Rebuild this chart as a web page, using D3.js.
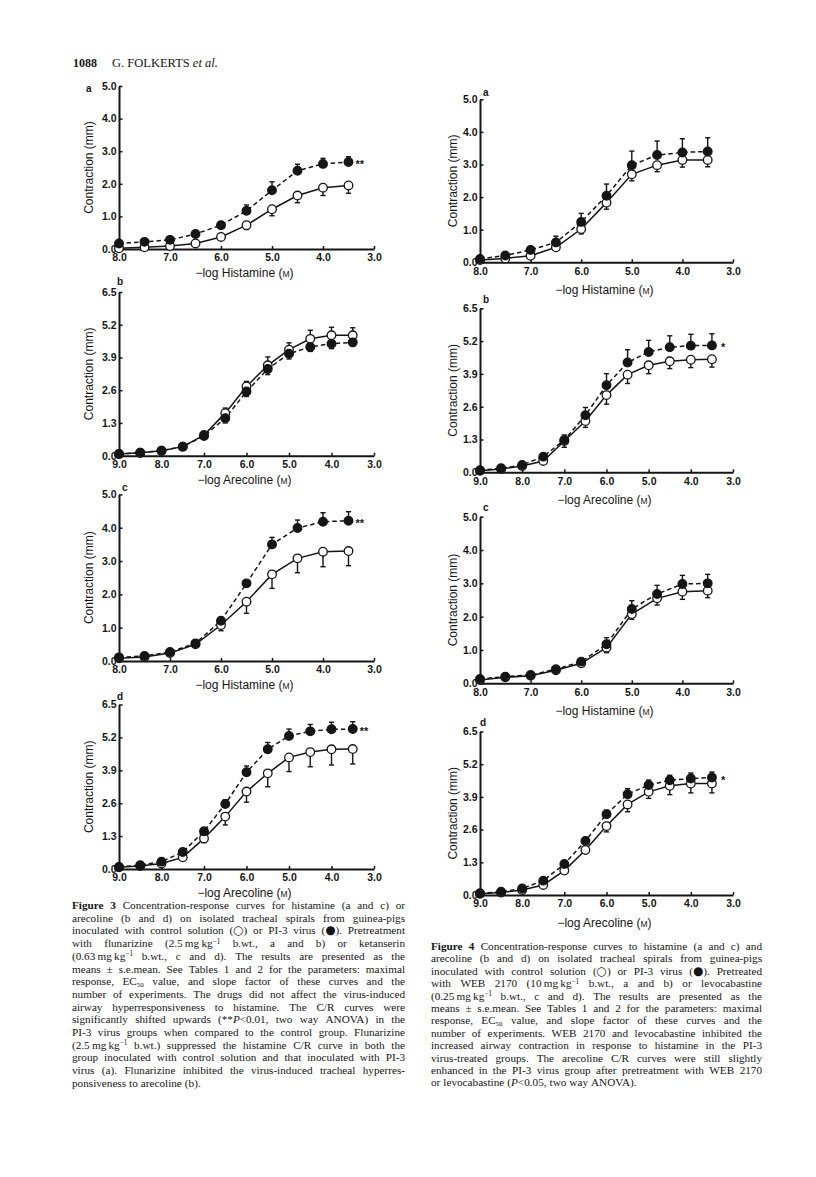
<!DOCTYPE html>
<html><head><meta charset="utf-8">
<script src="https://cdn.jsdelivr.net/npm/d3@7"></script>
<style>body{margin:0;background:#fff} svg{display:block}</style>
</head><body>
<svg id="c" width="816" height="1177"></svg>
<script>
// ---------- DATA ----------
const histamineDoses = [8.0, 7.5, 7.0, 6.5, 6.0, 5.5, 5.0, 4.5, 4.0, 3.5];
const arecolineDoses = [9.0, 8.5, 8.0, 7.5, 7.0, 6.5, 6.0, 5.5, 5.0, 4.5, 4.0, 3.5];
const histamineTicks = [8, 7, 6, 5, 4, 3];
const arecolineTicks = [9, 8, 7, 6, 5, 4, 3];
const yTicks5 = [0, 1, 2, 3, 4, 5];
const yTicks65 = [0, 1.3, 2.6, 3.9, 5.2, 6.5];

// Figure 3a (histamine, flunarizine)
const f3a_virus      = [0.17, 0.22, 0.28, 0.46, 0.73, 1.17, 1.80, 2.40, 2.61, 2.67];
const f3a_virusSem   = [0.03, 0.03, 0.04, 0.05, 0.11, 0.18, 0.26, 0.20, 0.17, 0.16];
const f3a_control    = [0.02, 0.05, 0.09, 0.17, 0.37, 0.73, 1.22, 1.64, 1.88, 1.95];
const f3a_controlSem = [0.02, 0.02, 0.03, 0.04, 0.08, 0.13, 0.20, 0.22, 0.24, 0.24];
// Figure 3b (arecoline, flunarizine)
const f3b_virus      = [0.07, 0.12, 0.20, 0.36, 0.78, 1.49, 2.55, 3.44, 4.05, 4.32, 4.45, 4.50];
const f3b_virusSem   = [0.02, 0.02, 0.03, 0.05, 0.10, 0.19, 0.20, 0.22, 0.21, 0.18, 0.20, 0.16];
const f3b_control    = [0.07, 0.12, 0.20, 0.36, 0.82, 1.69, 2.75, 3.59, 4.21, 4.64, 4.78, 4.78];
const f3b_controlSem = [0.02, 0.02, 0.03, 0.05, 0.10, 0.20, 0.20, 0.33, 0.27, 0.34, 0.32, 0.30];
// Figure 3c (histamine, ketanserin)
const f3c_virus      = [0.11, 0.15, 0.27, 0.53, 1.21, 2.33, 3.50, 3.99, 4.18, 4.21];
const f3c_virusSem   = [0.03, 0.03, 0.05, 0.06, 0.06, 0.06, 0.21, 0.24, 0.27, 0.27];
const f3c_control    = [0.08, 0.12, 0.24, 0.50, 1.08, 1.78, 2.60, 3.08, 3.28, 3.30];
const f3c_controlSem = [0.02, 0.03, 0.10, 0.08, 0.17, 0.35, 0.42, 0.43, 0.45, 0.44];
// Figure 3d (arecoline, ketanserin)
const f3d_virus      = [0.08, 0.15, 0.29, 0.67, 1.49, 2.57, 3.82, 4.73, 5.26, 5.44, 5.52, 5.53];
const f3d_virusSem   = [0.02, 0.03, 0.05, 0.06, 0.10, 0.16, 0.25, 0.27, 0.27, 0.27, 0.28, 0.29];
const f3d_control    = [0.07, 0.12, 0.22, 0.46, 1.21, 2.07, 3.06, 3.78, 4.41, 4.62, 4.73, 4.74];
const f3d_controlSem = [0.02, 0.02, 0.04, 0.05, 0.17, 0.33, 0.42, 0.53, 0.56, 0.58, 0.62, 0.59];
// Figure 4a (histamine, WEB 2170)
const f4a_virus      = [0.10, 0.21, 0.38, 0.61, 1.24, 2.04, 2.98, 3.29, 3.37, 3.40];
const f4a_virusSem   = [0.03, 0.04, 0.06, 0.19, 0.26, 0.36, 0.43, 0.43, 0.42, 0.42];
const f4a_control    = [0.07, 0.12, 0.20, 0.46, 1.02, 1.83, 2.70, 2.98, 3.14, 3.14];
const f4a_controlSem = [0.02, 0.02, 0.04, 0.05, 0.15, 0.20, 0.20, 0.20, 0.22, 0.21];
// Figure 4b (arecoline, WEB 2170)
const f4b_virus      = [0.08, 0.16, 0.29, 0.62, 1.28, 2.26, 3.45, 4.35, 4.77, 4.96, 5.02, 5.03];
const f4b_virusSem   = [0.02, 0.03, 0.05, 0.08, 0.20, 0.31, 0.46, 0.51, 0.46, 0.45, 0.45, 0.46];
const f4b_control    = [0.06, 0.13, 0.25, 0.45, 1.24, 2.03, 3.06, 3.87, 4.24, 4.40, 4.46, 4.48];
const f4b_controlSem = [0.02, 0.03, 0.05, 0.08, 0.25, 0.25, 0.36, 0.35, 0.33, 0.29, 0.31, 0.31];
// Figure 4c (histamine, levocabastine)
const f4c_virus      = [0.13, 0.20, 0.25, 0.42, 0.65, 1.17, 2.23, 2.68, 2.98, 3.00];
const f4c_virusSem   = [0.02, 0.03, 0.03, 0.04, 0.07, 0.20, 0.25, 0.26, 0.26, 0.27];
const f4c_control    = [0.10, 0.18, 0.23, 0.39, 0.60, 1.07, 2.08, 2.55, 2.75, 2.78];
const f4c_controlSem = [0.02, 0.02, 0.03, 0.04, 0.08, 0.15, 0.16, 0.20, 0.23, 0.21];
// Figure 4d (arecoline, levocabastine)
const f4d_virus      = [0.07, 0.13, 0.26, 0.57, 1.23, 2.15, 3.21, 4.01, 4.37, 4.56, 4.63, 4.67];
const f4d_virusSem   = [0.02, 0.02, 0.04, 0.05, 0.08, 0.13, 0.16, 0.22, 0.20, 0.20, 0.22, 0.22];
const f4d_control    = [0.05, 0.10, 0.20, 0.40, 0.97, 1.79, 2.74, 3.60, 4.10, 4.34, 4.43, 4.43];
const f4d_controlSem = [0.02, 0.02, 0.03, 0.05, 0.08, 0.13, 0.23, 0.29, 0.26, 0.35, 0.37, 0.37];

const panelLetters = ["a", "b", "c", "d", "a", "b", "c", "d"];
const significance = ["**", "", "**", "**", "", "*", "", "*"];
const xTitles = ["Histamine", "Arecoline", "Histamine", "Arecoline", "Histamine", "Arecoline", "Histamine", "Arecoline"];
const yTitle = "Contraction (mm)";
const headerPage = "1088";
const headerAuthor = "G. FOLKERTS";

const caption3 = [
  "{b|Figure} {b|3} Concentration-response curves for histamine (a and c) or",
  "arecoline (b and d) on isolated tracheal spirals from guinea-pigs",
  "inoculated with control solution ({s|○}) or PI-3 virus ({s|●}). Pretreatment",
  "with flunarizine (2.5\u2009mg\u2009kg{sup|−1} b.wt., a and b) or ketanserin",
  "(0.63\u2009mg\u2009kg{sup|−1} b.wt., c and d). The results are presented as the",
  "means ± s.e.mean. See Tables 1 and 2 for the parameters: maximal",
  "response, EC{sub|50} value, and slope factor of these curves and the",
  "number of experiments. The drugs did not affect the virus-induced",
  "airway hyperresponsiveness to histamine. The C/R curves were",
  "significantly shifted upwards (**{i|P}<0.01, two way ANOVA) in the",
  "PI-3 virus groups when compared to the control group. Flunarizine",
  "(2.5\u2009mg\u2009kg{sup|−1} b.wt.) suppressed the histamine C/R curve in both the",
  "group inoculated with control solution and that inoculated with PI-3",
  "virus (a). Flunarizine inhibited the virus-induced tracheal hyperres-",
  "ponsiveness to arecoline (b)."
];
const caption4 = [
  "{b|Figure} {b|4} Concentration-response curves to histamine (a and c) and",
  "arecoline (b and d) on isolated tracheal spirals from guinea-pigs",
  "inoculated with control solution ({s|○}) or PI-3 virus ({s|●}). Pretreated",
  "with WEB 2170 (10\u2009mg\u2009kg{sup|−1} b.wt., a and b) or levocabastine",
  "(0.25\u2009mg\u2009kg{sup|−1} b.wt., c and d). The results are presented as the",
  "means ± s.e.mean. See Tables 1 and 2 for the parameters: maximal",
  "response, EC{sub|50} value, and slope factor of these curves and the",
  "number of experiments. WEB 2170 and levocabastine inhibited the",
  "increased airway contraction in response to histamine in the PI-3",
  "virus-treated groups. The arecoline C/R curves were still slightly",
  "enhanced in the PI-3 virus group after pretreatment with WEB 2170",
  "or levocabastine ({i|P}<0.05, two way ANOVA)."
];

// ---------- LAYOUT ----------
const svg = d3.select("#c");
const SANS = "'Liberation Sans', Arial, Helvetica, sans-serif";
const SERIF = "'Liberation Serif', 'Times New Roman', serif";
const INK = "#151515";

const frames = [
  {x0:119, x1:374, yT:86,    yB:249,   lx:86,  ly:92,  fig:3},
  {x0:119, x1:374, yT:292,   yB:455.7, lx:117, ly:285, fig:3},
  {x0:119, x1:374, yT:494.4, yB:661,   lx:122, ly:491, fig:3},
  {x0:119, x1:374, yT:704.5, yB:869,   lx:117, ly:700, fig:3},
  {x0:480, x1:733, yT:99.3,  yB:262.3, lx:483, ly:96,  fig:4},
  {x0:480, x1:733, yT:308.3, yB:472.3, lx:483, ly:303, fig:4},
  {x0:480, x1:733, yT:516.7, yB:683.3, lx:483, ly:511, fig:4},
  {x0:480, x1:733, yT:731.5, yB:895,   lx:480, ly:726, fig:4}
];

const panelData = [
  [f3a_virus, f3a_virusSem, f3a_control, f3a_controlSem],
  [f3b_virus, f3b_virusSem, f3b_control, f3b_controlSem],
  [f3c_virus, f3c_virusSem, f3c_control, f3c_controlSem],
  [f3d_virus, f3d_virusSem, f3d_control, f3d_controlSem],
  [f4a_virus, f4a_virusSem, f4a_control, f4a_controlSem],
  [f4b_virus, f4b_virusSem, f4b_control, f4b_controlSem],
  [f4c_virus, f4c_virusSem, f4c_control, f4c_controlSem],
  [f4d_virus, f4d_virusSem, f4d_control, f4d_controlSem]
];

function drawPanel(i) {
  const f = frames[i];
  const isHist = xTitles[i] === "Histamine";
  const doses = isHist ? histamineDoses : arecolineDoses;
  const xt = isHist ? histamineTicks : arecolineTicks;
  const yt = isHist ? yTicks5 : yTicks65;
  const yMax = d3.max(yt);
  const x = d3.scaleLinear().domain([d3.max(xt), d3.min(xt)]).range([f.x0, f.x1]);
  const y = d3.scaleLinear().domain([0, yMax]).range([f.yB, f.yT]);
  const g = svg.append("g");
  const fmt = d3.format(".1f");

  const ya = g.append("g").attr("transform", `translate(${f.x0},0)`)
    .call(d3.axisLeft(y).tickValues(yt).tickFormat(fmt).tickSizeInner(-3.5).tickSizeOuter(0).tickPadding(2.5));
  const xa = g.append("g").attr("transform", `translate(0,${f.yB})`)
    .call(d3.axisBottom(x).tickValues(xt).tickFormat(fmt).tickSizeInner(-3).tickSizeOuter(0).tickPadding(5));
  [ya, xa].forEach(a => {
    a.select(".domain").attr("stroke", INK).attr("stroke-width", 2);
    a.selectAll(".tick line").attr("stroke", INK).attr("stroke-width", 1.5);
    a.selectAll("text").attr("fill", INK).attr("font-family", SANS)
      .attr("font-size", 10.5).attr("font-weight", "bold");
  });

  g.append("text").attr("x", f.lx).attr("y", f.ly).text(panelLetters[i])
    .attr("font-family", SANS).attr("font-weight", "bold").attr("font-size", 10).attr("fill", INK);
  const yx = f.fig === 3 ? f.x0 - 30 : f.x0 - 27;
  g.append("text").attr("transform", `translate(${yx + 4},${(f.yT + f.yB) / 2}) rotate(-90)`)
    .attr("text-anchor", "middle").attr("font-family", SANS).attr("font-size", 12).attr("fill", INK)
    .text(yTitle);
  const xtY = f.yB + (f.fig === 3 ? 23.5 : 27.5) + 4.5;
  const xtt = g.append("text").attr("x", (f.x0 + f.x1) / 2 - 2).attr("y", xtY)
    .attr("text-anchor", "middle").attr("font-family", SANS).attr("font-size", 12).attr("fill", INK);
  xtt.append("tspan").text("\u2212log " + xTitles[i] + " (");
  xtt.append("tspan").attr("font-size", 8.5).text("M");
  xtt.append("tspan").text(")");

  const [vir, virSem, con, conSem] = panelData[i];
  const ctrlAbove = d3.mean(con.slice(-3)) > d3.mean(vir.slice(-3));
  const series = [
    {vals: con, sem: conSem, dash: null, fill: "#fff", dir: ctrlAbove ? 1 : -1},
    {vals: vir, sem: virSem, dash: "4.5,3", fill: INK, dir: ctrlAbove ? -1 : 1}
  ];
  const line = d3.line().x((d, k) => x(doses[k])).y(d => y(d));
  series.forEach(s => {
    g.append("path").datum(s.vals).attr("d", line).attr("fill", "none")
      .attr("stroke", INK).attr("stroke-width", 1.5).attr("stroke-dasharray", s.dash);
  });
  series.forEach(s => {
    const eg = g.append("g").attr("stroke", INK).attr("stroke-width", 1.4);
    s.vals.forEach((v, k) => {
      const e = v + s.dir * s.sem[k];
      const cx = x(doses[k]);
      eg.append("line").attr("x1", cx).attr("x2", cx).attr("y1", y(v)).attr("y2", y(e));
      eg.append("line").attr("x1", cx - 2.6).attr("x2", cx + 2.6).attr("y1", y(e)).attr("y2", y(e));
    });
  });
  series.forEach(s => {
    g.append("g").selectAll("circle").data(s.vals).join("circle")
      .attr("cx", (d, k) => x(doses[k])).attr("cy", d => y(d)).attr("r", 4.3)
      .attr("fill", s.fill).attr("stroke", INK).attr("stroke-width", 1.3);
  });
  if (significance[i]) {
    const last = vir.length - 1;
    g.append("text").attr("x", x(doses[last]) + (f.fig === 3 ? 7 : 9)).attr("y", y(vir[last]) + 6)
      .attr("font-family", SANS).attr("font-weight", "bold").attr("font-size", 11).attr("fill", INK)
      .text(significance[i]);
  }
}
for (let i = 0; i < 8; i++) drawPanel(i);

// header
svg.append("text").attr("x", 73).attr("y", 67).attr("font-family", SERIF).attr("font-size", 12)
  .attr("font-weight", "bold").attr("fill", INK).text(headerPage);
const h2 = svg.append("text").attr("x", 112).attr("y", 67).attr("font-family", SERIF).attr("font-size", 12.5).attr("fill", INK);
h2.append("tspan").text(headerAuthor + " ");
h2.append("tspan").attr("font-style", "italic").text("et al.");

// captions
function richText(t, word, fs) {
  const re = /\{(b|i|s|sup|sub)\|([^}]*)\}|([^{]+)/g; let m; let shift = 0;
  while ((m = re.exec(word))) {
    if (m[3]) { const s = t.append("tspan").text(m[3]); if (shift) { s.attr("dy", -shift); shift = 0; } continue; }
    const s = t.append("tspan").text(m[2]);
    if (m[1] === "b") s.attr("font-weight", "bold");
    if (m[1] === "i") s.attr("font-style", "italic");
    if (m[1] === "s") s.attr("font-family", "'DejaVu Sans', sans-serif").attr("font-size", fs * 1.05);
    if (m[1] === "sup") { s.attr("font-size", fs * 0.65).attr("dy", -3.5); shift = -3.5; }
    if (m[1] === "sub") { s.attr("font-size", fs * 0.62).attr("dy", 1.5); shift = 1.5; }
  }
}
function paragraph(lines, x0, w, y0, lh, fs) {
  lines.forEach((ln, i) => {
    const words = ln.split(" ");
    const yy = y0 + i * lh;
    const ts = words.map(wd => {
      const t = svg.append("text").attr("y", yy).attr("font-family", SERIF).attr("font-size", fs).attr("fill", INK);
      richText(t, wd, fs); return t;
    });
    const ws = ts.map(t => t.node().getComputedTextLength());
    const total = d3.sum(ws);
    const last = i === lines.length - 1;
    const gap = last ? fs * 0.27 : (w - total) / (words.length - 1);
    let cx = x0;
    ts.forEach((t, j) => { t.attr("x", cx); cx += ws[j] + gap; });
  });
}
paragraph(caption3, 72, 333, 909, 12.7, 11.2);
paragraph(caption4, 431, 331, 950, 12.4, 11.2);
</script></body></html>
